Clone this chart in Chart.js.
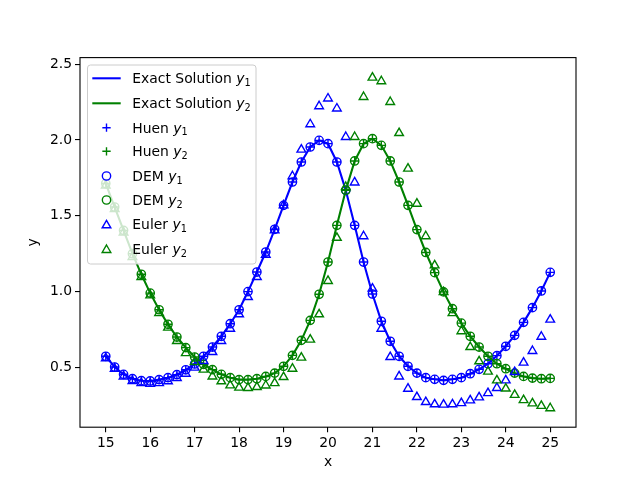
<!DOCTYPE html>
<html>
<head>
<meta charset="utf-8">
<script src="https://cdn.jsdelivr.net/npm/chart.js@4/dist/chart.umd.min.js"></script>
<style>
    html, body { margin: 0; padding: 0; background: #fff; }
</style>
</head>
<body>
<canvas id="chart" width="640" height="480"></canvas>
<script>
const xValues = [15.0, 15.2, 15.4, 15.6, 15.8, 16.0, 16.2, 16.4, 16.6, 16.8,
    17.0, 17.2, 17.4, 17.6, 17.8, 18.0, 18.2, 18.4, 18.6, 18.8,
    19.0, 19.2, 19.4, 19.6, 19.8, 20.0, 20.2, 20.4, 20.6, 20.8,
    21.0, 21.2, 21.4, 21.6, 21.8, 22.0, 22.2, 22.4, 22.6, 22.8,
    23.0, 23.2, 23.4, 23.6, 23.8, 24.0, 24.2, 24.4, 24.6, 24.8, 25.0];

const exactY1 = [0.573, 0.502, 0.454, 0.425, 0.412, 0.410, 0.419, 0.432, 0.452, 0.484,
    0.522, 0.573, 0.634, 0.705, 0.788, 0.880, 1.000, 1.129, 1.261, 1.411,
    1.569, 1.723, 1.855, 1.954, 1.998, 1.976, 1.855, 1.668, 1.437, 1.195,
    0.984, 0.804, 0.672, 0.573, 0.507, 0.462, 0.432, 0.421, 0.414, 0.421,
    0.432, 0.458, 0.487, 0.524, 0.577, 0.639, 0.711, 0.797, 0.894, 1.004, 1.127];

const exactY2 = [1.713, 1.558, 1.404, 1.250, 1.114, 0.990, 0.880, 0.784, 0.700, 0.630,
    0.568, 0.520, 0.485, 0.454, 0.432, 0.419, 0.419, 0.425, 0.440, 0.462,
    0.507, 0.579, 0.678, 0.810, 0.982, 1.195, 1.437, 1.668, 1.862, 1.976,
    2.009, 1.965, 1.862, 1.723, 1.569, 1.409, 1.258, 1.125, 0.998, 0.887,
    0.792, 0.705, 0.634, 0.573, 0.524, 0.491, 0.462, 0.440, 0.429, 0.425, 0.427];

// Heun and DEM sit on the exact curves at this scale
const huenY1 = exactY1;
const huenY2 = exactY2;
const demY1 = exactY1;
const demY2 = exactY2;

const eulerY1 = [0.560, 0.490, 0.440, 0.410, 0.396, 0.392, 0.396, 0.408, 0.430, 0.458,
    0.498, 0.542, 0.601, 0.674, 0.755, 0.850, 0.964, 1.096, 1.243, 1.404,
    1.569, 1.761, 1.937, 2.104, 2.223, 2.274, 2.208, 2.020, 1.720, 1.365,
    1.020, 0.755, 0.568, 0.440, 0.359, 0.304, 0.271, 0.256, 0.254, 0.256,
    0.264, 0.282, 0.302, 0.330, 0.364, 0.414, 0.469, 0.531, 0.608, 0.702, 0.815];

const eulerY2 = [1.700, 1.545, 1.390, 1.228, 1.096, 0.975, 0.858, 0.762, 0.674, 0.594,
    0.535, 0.485, 0.440, 0.408, 0.381, 0.366, 0.364, 0.370, 0.380, 0.396,
    0.436, 0.491, 0.564, 0.683, 0.850, 1.070, 1.355, 1.690, 2.020, 2.284,
    2.412, 2.388, 2.251, 2.046, 1.811, 1.580, 1.365, 1.173, 0.997, 0.858,
    0.738, 0.634, 0.540, 0.472, 0.414, 0.360, 0.318, 0.284, 0.262, 0.246, 0.230];

const xTicks = [15, 16, 17, 18, 19, 20, 21, 22, 23, 24, 25];
const yTicks = [0.5, 1.0, 1.5, 2.0, 2.5];

const BLUE = '#0000ff';
const GREEN = '#008000';
const FONT = 'DejaVu Sans';
const FS = 13.9;
const MS = 8.33;       // marker size (6pt)
const MEW = 1.39;      // marker edge width (1pt)
const TRI_R = 5;       // chart.js triangle radius

Chart.defaults.font.family = FONT;
Chart.defaults.font.size = FS;
Chart.defaults.color = '#000';

const pts = ys => xValues.map((x, i) => ({x: x, y: ys[i]}));

const series = [
    {name: 'Exact Solution ', sub: '1', ys: exactY1, color: BLUE, kind: 'line'},
    {name: 'Exact Solution ', sub: '2', ys: exactY2, color: GREEN, kind: 'line'},
    {name: 'Huen ', sub: '1', ys: huenY1, color: BLUE, kind: 'cross'},
    {name: 'Huen ', sub: '2', ys: huenY2, color: GREEN, kind: 'cross'},
    {name: 'DEM ', sub: '1', ys: demY1, color: BLUE, kind: 'circle'},
    {name: 'DEM ', sub: '2', ys: demY2, color: GREEN, kind: 'circle'},
    {name: 'Euler ', sub: '1', ys: eulerY1, color: BLUE, kind: 'triangle'},
    {name: 'Euler ', sub: '2', ys: eulerY2, color: GREEN, kind: 'triangle'}
];

const datasets = series.map((s, i) => {
    const ds = {
        label: s.name + 'y' + (s.sub === '1' ? '\u2081' : '\u2082'),
        data: pts(s.ys),
        order: series.length - i,
        borderColor: s.color,
        backgroundColor: s.color
    };
    if (s.kind === 'line') {
        ds.showLine = true;
        ds.borderWidth = 2.08;
        ds.pointRadius = 0;
        ds.tension = 0;
    } else {
        ds.showLine = false;
        ds.pointStyle = s.kind;
        ds.pointRadius = s.kind === 'triangle' ? TRI_R : MS / 2;
        ds.pointBorderWidth = MEW;
        ds.pointBorderColor = s.color;
        ds.pointBackgroundColor = 'rgba(0,0,0,0)';
    }
    return ds;
});

const framePlugin = {
    id: 'frame',
    afterDatasetsDraw(chart) {
        const a = chart.chartArea;
        const ctx = chart.ctx;
        ctx.save();
        ctx.strokeStyle = '#000';
        ctx.lineWidth = 1.1;
        ctx.strokeRect(a.left, a.top, a.right - a.left, a.bottom - a.top);
        ctx.restore();
    }
};

const legendRowY = [78.3, 103.3, 127.7, 151.3, 176, 200, 224.3, 249];

const legendPlugin = {
    id: 'mplLegend',
    afterDraw(chart) {
        const ctx = chart.ctx;
        const bx = 87.5, by = 65, bw = 168.5, bh = 199, r = 3;
        ctx.save();
        ctx.beginPath();
        ctx.moveTo(bx + r, by);
        ctx.arcTo(bx + bw, by, bx + bw, by + bh, r);
        ctx.arcTo(bx + bw, by + bh, bx, by + bh, r);
        ctx.arcTo(bx, by + bh, bx, by, r);
        ctx.arcTo(bx, by, bx + bw, by, r);
        ctx.closePath();
        ctx.fillStyle = 'rgba(255,255,255,0.8)';
        ctx.fill();
        ctx.strokeStyle = '#cccccc';
        ctx.lineWidth = 1;
        ctx.stroke();

        const mx = 106.5;
        series.forEach((s, i) => {
            const cy = legendRowY[i];
            ctx.strokeStyle = s.color;
            ctx.lineWidth = MEW;
            ctx.beginPath();
            if (s.kind === 'line') {
                ctx.lineWidth = 2.08;
                ctx.moveTo(92.3, cy);
                ctx.lineTo(120.7, cy);
            } else if (s.kind === 'cross') {
                ctx.moveTo(mx - MS / 2, cy);
                ctx.lineTo(mx + MS / 2, cy);
                ctx.moveTo(mx, cy - MS / 2);
                ctx.lineTo(mx, cy + MS / 2);
            } else if (s.kind === 'circle') {
                ctx.arc(mx, cy, MS / 2, 0, Math.PI * 2);
            } else {
                const ty = cy + 1;
                ctx.moveTo(mx, ty - TRI_R);
                ctx.lineTo(mx + TRI_R * Math.sin(Math.PI * 2 / 3), ty + TRI_R / 2);
                ctx.lineTo(mx - TRI_R * Math.sin(Math.PI * 2 / 3), ty + TRI_R / 2);
                ctx.closePath();
            }
            ctx.stroke();

            const base = cy + 5;
            let tx = 132.3;
            ctx.fillStyle = '#000';
            ctx.textBaseline = 'alphabetic';
            ctx.textAlign = 'left';
            ctx.font = FS + 'px "' + FONT + '"';
            ctx.fillText(s.name, tx, base);
            tx += ctx.measureText(s.name).width;
            ctx.font = 'italic ' + FS + 'px "' + FONT + '"';
            ctx.fillText('y', tx, base);
            tx += ctx.measureText('y').width;
            ctx.font = (FS * 0.7) + 'px "' + FONT + '"';
            ctx.fillText(s.sub, tx, base + 2.5);
        });
        ctx.restore();
    }
};

new Chart(document.getElementById('chart'), {
    type: 'scatter',
    data: {datasets: datasets},
    options: {
        responsive: false,
        animation: false,
        devicePixelRatio: 1,
        layout: {padding: {left: 0, right: 64, top: 57.6, bottom: 0}},
        plugins: {
            legend: {display: false},
            tooltip: {enabled: false}
        },
        scales: {
            x: {
                type: 'linear',
                min: 14.42,
                max: 25.58,
                afterFit: scale => { scale.height = 52.8; },
                afterBuildTicks: scale => { scale.ticks = xTicks.map(v => ({value: v})); },
                grid: {drawOnChartArea: false, drawTicks: true, tickLength: 5, color: '#000', lineWidth: 1.1},
                border: {display: false},
                ticks: {padding: 3, maxRotation: 0, autoSkip: false, color: '#000', callback: v => String(v)},
                title: {display: true, text: 'x', color: '#000', padding: {top: 0, bottom: 9.7}}
            },
            y: {
                type: 'linear',
                min: 0.105,
                max: 2.544,
                afterFit: scale => { scale.width = 80; },
                afterBuildTicks: scale => { scale.ticks = yTicks.map(v => ({value: v})); },
                grid: {drawOnChartArea: false, drawTicks: true, tickLength: 5, color: '#000', lineWidth: 1.1},
                border: {display: false},
                ticks: {padding: 3, autoSkip: false, color: '#000', callback: v => v.toFixed(1)},
                title: {display: true, text: 'y', color: '#000', padding: {top: 24.7, bottom: 0}}
            }
        }
    },
    plugins: [framePlugin, legendPlugin]
});
</script>
</body>
</html>
